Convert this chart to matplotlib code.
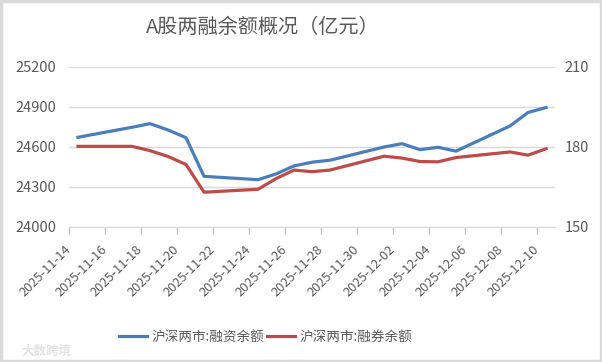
import pandas as pd
import matplotlib.pyplot as plt
import matplotlib.dates as mdates
import matplotlib.transforms as mtransforms
from matplotlib.patches import Rectangle

plt.rcParams["font.family"] = ["Noto Sans CJK SC", "DejaVu Sans"]

# --- Data ---
dates = ["2025-11-14", "2025-11-17", "2025-11-18", "2025-11-19", "2025-11-20",
         "2025-11-21", "2025-11-24", "2025-11-25", "2025-11-26", "2025-11-27",
         "2025-11-28", "2025-12-01", "2025-12-02", "2025-12-03", "2025-12-04",
         "2025-12-05", "2025-12-08", "2025-12-09", "2025-12-10"]

financing = [24670, 24745, 24772, 24725, 24667, 24377, 24352, 24395, 24455, 24483,
             24498, 24597, 24622, 24577, 24595, 24566, 24755, 24856, 24893]

securities = [180.1, 180.1, 178.5, 176.3, 173.3, 162.9, 164.0, 168.0, 171.2, 170.6,
              171.2, 176.4, 175.7, 174.4, 174.3, 175.9, 178.0, 176.8, 179.2]

title = "A股两融余额概况（亿元）"
label_fin = "沪深两市:融资余额"
label_sec = "沪深两市:融券余额"

BLUE = "#4A7EBB"
RED = "#BE4B48"
GREY = "#595959"

x = pd.to_datetime(dates) + pd.Timedelta(hours=12)
tick_dates = pd.date_range("2025-11-14", "2025-12-10", freq="2D")

fig = plt.figure(figsize=(6.02, 3.62), dpi=100)
ax = fig.add_axes([0.1146, 0.374, 0.8074, 0.442])
ax2 = ax.twinx()

l1, = ax.plot(x, financing, color=BLUE, linewidth=2.3, label=label_fin, zorder=3)
l2, = ax2.plot(x, securities, color=RED, linewidth=2.3, label=label_sec, zorder=3)

ax.set_xlim(pd.Timestamp("2025-11-14"), pd.Timestamp("2025-12-11"))
ax.set_ylim(24000, 25200)
ax.set_yticks(range(24000, 25201, 300))
ax2.set_ylim(150, 210)
ax2.set_yticks([150, 180, 210])

ax.set_xticks(tick_dates)
ax.xaxis.set_major_formatter(mdates.DateFormatter("%Y-%m-%d"))

ax.grid(axis="y", color="#D9D9D9", linewidth=1, zorder=0)
for a in (ax, ax2):
    for s in a.spines.values():
        s.set_visible(False)
ax.spines["bottom"].set_visible(True)
ax.spines["bottom"].set_color("#D9D9D9")

ax.tick_params(axis="x", colors="#BFBFBF", length=5, width=1, labelcolor=GREY,
               labelsize=9.3, pad=2)
ax.tick_params(axis="y", length=0, labelcolor=GREY, labelsize=10.5, pad=9)
ax2.tick_params(axis="y", length=0, labelcolor=GREY, labelsize=10.5, pad=7)

# rotated date labels, nudged a little right and down
shift = mtransforms.ScaledTranslation(3 / 72, -5 / 72, fig.dpi_scale_trans)
for lab in ax.get_xticklabels():
    lab.set_rotation(45)
    lab.set_ha("right")
    lab.set_va("top")
    lab.set_transform(lab.get_transform() + shift)

fig.text(0.436, 0.925, title, ha="center", va="center", fontsize=14.5, color=GREY)

fig.legend(handles=[l1, l2], loc="center", bbox_to_anchor=(0.441, 0.069), ncol=2,
           frameon=False, fontsize=9.8, labelcolor=GREY, handlelength=2.1,
           handletextpad=0.3, columnspacing=0.2)

# faint watermark in the corner
fig.text(0.035, 0.03, "大数跨境", ha="left", va="center", fontsize=9,
         color="#E3E3E3", fontweight="bold")

# light grey frame round the whole picture
fig.add_artist(Rectangle((0.002, 0.003), 0.996, 0.994, transform=fig.transFigure,
                         fill=False, edgecolor="#D9D9D9", linewidth=2.5))

fig.savefig("out.png", dpi=100, facecolor="white")
